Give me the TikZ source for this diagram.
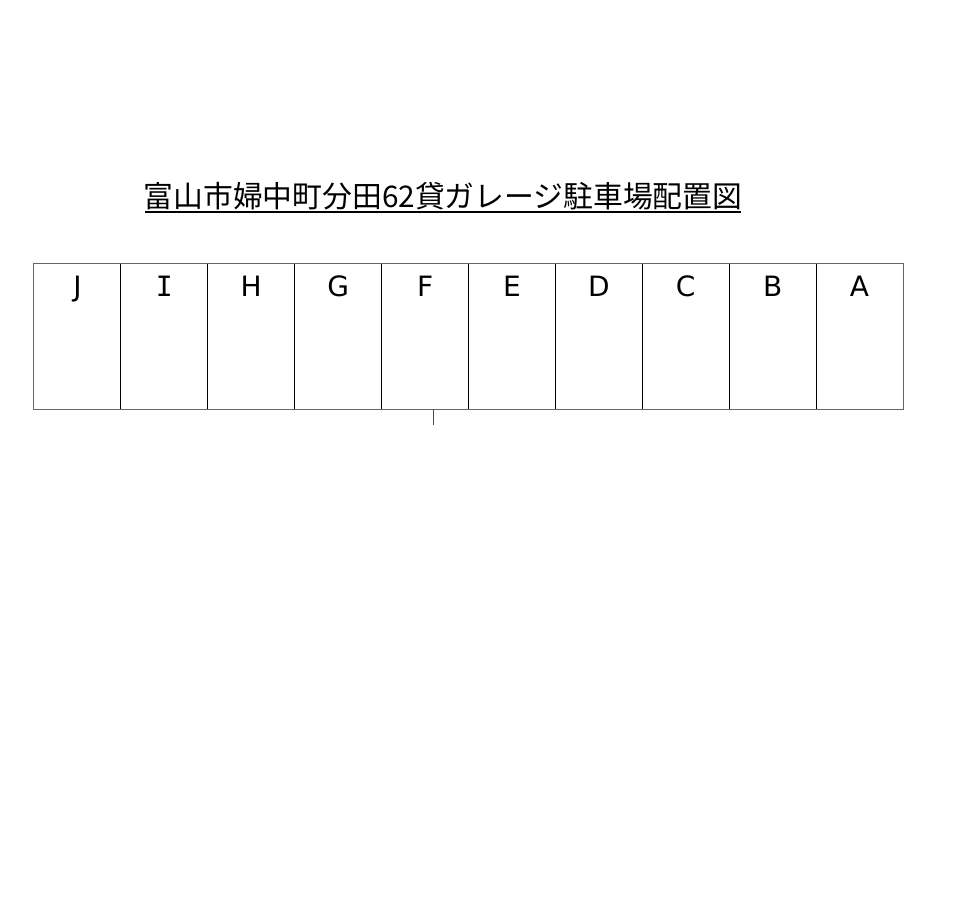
\documentclass[tikz,border=0pt]{standalone}
\usepackage{fontspec}
\newfontfamily\jpfont{Noto Sans CJK JP}
\newfontfamily\letterfont{DejaVu Sans}
\newfontfamily\monoletter{DejaVu Sans Mono}
\def\letterI{I}
\begin{document}
\begin{tikzpicture}[x=1pt,y=-1pt,
  cell/.style={draw=black,line width=1pt,minimum width=87pt,minimum height=146pt,inner sep=0pt,outer sep=0pt},
  letter/.style={font=\letterfont\fontsize{28}{28}\selectfont,inner sep=0pt,anchor=base},
  titlestyle/.style={font=\jpfont\fontsize{29.8}{30}\selectfont,inner sep=0pt}]
\useasboundingbox (0,0) rectangle (964,918);
\node[titlestyle] (title) at (443,196) {富山市婦中町分田62貸ガレージ駐車場配置図};
\draw[line width=2pt] (145,211.5) coordinate (ul1) -- (741,211.5) coordinate (ul2);
\foreach \l [count=\i from 0] in {J,I,H,G,F,E,D,C,B,A} {
  \node[cell] (c\l) at ({34+86.9*\i+43.45},336) {};
  \node[letter] (t\l) at ({34+86.9*\i+43.45},296) {\ifx\l\letterI\monoletter\fi\l};
}
\draw[gray!80!black,line width=1pt] (cJ.north west) rectangle (cA.south east);
\coordinate (tickA) at (433,409);
\coordinate (tickB) at (433,425);
\draw[line width=1pt,gray!60!black] (tickA) -- (tickB);
\end{tikzpicture}
\end{document}
